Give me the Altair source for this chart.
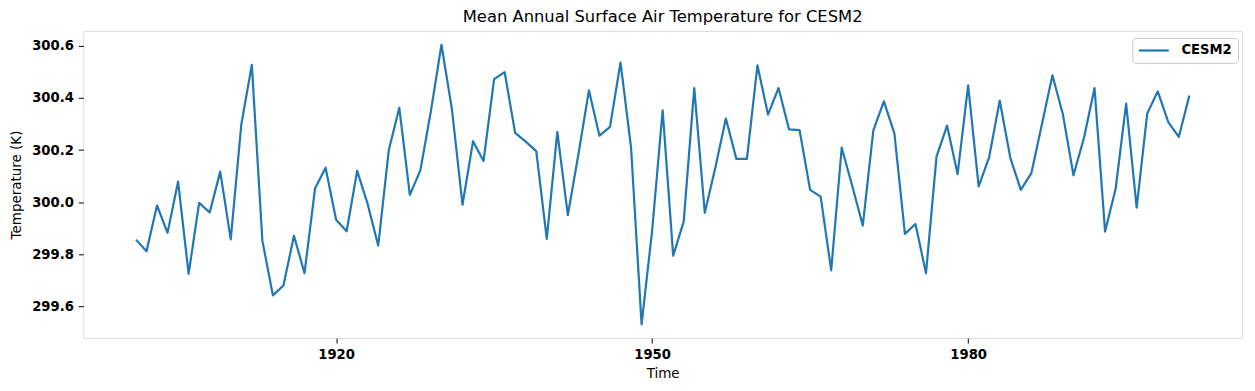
import altair as alt
import pandas as pd

# Years of the annual means
years = list(range(1901, 2002))

# Mean annual surface air temperature (K)
temps = [
    299.856, 299.811, 299.987, 299.882, 300.079, 299.725, 299.997, 299.960, 300.117, 299.857,
    300.298, 300.527, 299.852, 299.642, 299.680, 299.871, 299.727, 300.052, 300.132, 299.932,
    299.888, 300.120, 299.992, 299.833, 300.199, 300.362, 300.028, 300.122, 300.350, 300.604,
    300.355, 299.990, 300.234, 300.158, 300.472, 300.499, 300.266, 300.232, 300.196, 299.859,
    300.270, 299.950, 300.183, 300.429, 300.255, 300.289, 300.536, 300.209, 299.531, 299.890,
    300.352, 299.794, 299.926, 300.438, 299.959, 300.132, 300.321, 300.166, 300.166, 300.525,
    300.336, 300.438, 300.279, 300.276, 300.047, 300.021, 299.738, 300.209, 300.062, 299.910,
    300.275, 300.387, 300.264, 299.878, 299.916, 299.727, 300.175, 300.294, 300.107, 300.448,
    300.060, 300.173, 300.390, 300.171, 300.047, 300.111, 300.298, 300.487, 300.336, 300.103,
    300.247, 300.438, 299.887, 300.050, 300.378, 299.979, 300.340, 300.425, 300.307, 300.250,
    300.409,
]

model_name = "CESM2"
x_ticks = [1920, 1950, 1980]
y_ticks = [299.6, 299.8, 300.0, 300.2, 300.4, 300.6]

df = pd.DataFrame({"year": years, "temp": temps, "model": [model_name] * len(years)})

FONT = "DejaVu Sans"

chart = (
    alt.Chart(df)
    .mark_line(strokeWidth=2.2, strokeJoin="round")
    .encode(
        x=alt.X(
            "year:Q",
            scale=alt.Scale(domain=[1896, 2006], nice=False, zero=False),
            axis=alt.Axis(
                values=x_ticks,
                format="d",
                title="Time",
                titleY=40,
                titleBaseline="alphabetic",
                grid=False,
                domain=False,
                tickSize=5,
                tickColor="black",
                tickWidth=1,
                labelPadding=5,
                labelFontWeight="bold",
                labelFontSize=13.2,
                labelColor="black",
                labelFont=FONT,
                titleFont=FONT,
                titleFontSize=13.5,
                titleFontWeight="normal",
                titleColor="black",
            ),
        ),
        y=alt.Y(
            "temp:Q",
            scale=alt.Scale(domain=[299.478, 300.657], nice=False, zero=False),
            axis=alt.Axis(
                values=y_ticks,
                format=".1f",
                title="Temperature (K)",
                titleX=-63,
                titleY=154,
                titleBaseline="alphabetic",
                titleAlign="center",
                grid=False,
                domain=False,
                tickSize=5,
                tickColor="black",
                tickWidth=1,
                labelPadding=5,
                labelFontWeight="bold",
                labelFontSize=13.2,
                labelColor="black",
                labelFont=FONT,
                titleFont=FONT,
                titleFontSize=13.5,
                titleFontWeight="normal",
                titleColor="black",
            ),
        ),
        color=alt.Color(
            "model:N",
            scale=alt.Scale(domain=[model_name], range=["#1f77b4"]),
            legend=alt.Legend(
                title=None,
                orient="none",
                legendX=1052,
                legendY=7,
                padding=6,
                strokeColor="#cccccc",
                fillColor="rgba(255,255,255,0.8)",
                cornerRadius=3,
                symbolType="M-1.2,0H4.8",
                symbolSize=100,
                symbolStrokeWidth=2.2,
                labelOffset=30,
                labelFont=FONT,
                labelFontSize=13.2,
                labelFontWeight="bold",
                labelColor="black",
            ),
        ),
    )
    .properties(
        width=1162,
        height=308,
        title=alt.TitleParams(
            text="Mean Annual Surface Air Temperature for CESM2",
            font=FONT,
            fontSize=16.4,
            fontWeight="normal",
            color="black",
            anchor="middle",
            baseline="alphabetic",
            offset=8.5,
            dy=15.5,
        ),
        autosize=alt.AutoSizeParams(type="none"),
        padding={"left": 75.5, "top": 22.5, "right": 5, "bottom": 45},
    )
    .configure_view(stroke="black", strokeWidth=1.1)
    .configure(background="white")
)

chart.save("out.html", embed_options={"renderer": "svg", "actions": False})
